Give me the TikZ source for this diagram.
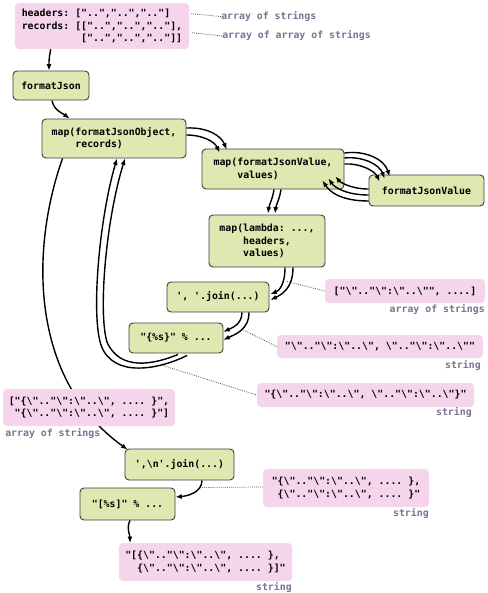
\documentclass[tikz,border=0pt]{standalone}
\usepackage{fontspec}
\setmonofont{DejaVu Sans Mono}
\usetikzlibrary{arrows.meta,calc}
\definecolor{gfill}{HTML}{DFE8B0}
\definecolor{gline}{HTML}{404040}
\definecolor{pfill}{HTML}{F5D5EC}
\definecolor{labc}{HTML}{7A7290}
\newcommand\qq{\textbackslash"}
\newcommand\bsl{\textbackslash}
\newcommand\codefont{\fontsize{7.4pt}{9.2pt}\selectfont\ttfamily\bfseries}
\tikzset{
  sz/.style 2 args={minimum width=#1*0.75pt, minimum height=#2*0.75pt},
  gbox/.style={draw=gline, fill=gfill, rounded corners=3pt, line width=0.7pt, font=\codefont, align=left, inner sep=0pt},
  pbox/.style={fill=pfill, rounded corners=3pt, font=\codefont, align=left, inner sep=0pt},
  lab/.style={text=labc, font=\codefont, inner sep=0pt},
  arr/.style={-{Latex[length=4.8pt,width=3.8pt]}, line width=1.05pt},
  dotline/.style={line width=0.55pt, black!75, dash pattern=on 0.55pt off 0.9pt},
}
\begin{document}
\begin{tikzpicture}[x=0.75pt,y=-0.75pt]
\fill[white] (0,0) rectangle (488,593);
\useasboundingbox (0,0) rectangle (488,593);

% pink input box
\node[pbox,sz={174}{46}] (top) at (102,26) {headers: ["..","..",".."]\\records: [["..","..",".."],\\\phantom{records: [}["..","..",".."]]};
\node[lab,anchor=west] (la1) at (221,16.5) {array of strings};
\node[lab,anchor=west] (la2) at (222,36) {array of array of strings};

% green boxes
\node[gbox,sz={76}{29}] (fj) at (51,85.5) {formatJson};
\node[gbox,sz={144}{39}] (mo) at (114,138.5) {map(formatJsonObject,\\\phantom{0000}records)};
\node[gbox,sz={142}{40}] (mv) at (273,169) {map(formatJsonValue,\\\phantom{0000}values)};
\node[gbox,sz={115}{31}] (fjv) at (426.5,190.5) {formatJsonValue};
\node[gbox,sz={116}{52}] (lam) at (267,241) {map(lambda: ...,\\\phantom{0000}headers,\\\phantom{0000}values)};
\node[gbox,sz={102}{30}] (j1) at (218,297) {', '.join(...)};
\node[gbox,sz={94}{30}] (f1) at (176,338) {"\{\%s\}" \% ...};
\node[gbox,sz={109}{31}] (j2) at (179.5,464.5) {',\bsl n'.join(...)};
\node[gbox,sz={95}{32}] (f2) at (127.5,504) {"[\%s]" \% ...};

% connectors
\draw[arr] ($(top.south west)+(36,0)$) .. controls +(-2,10) and +(0,-8) .. ($(fj.north)+(-2,0)$);
\draw[arr] ($(fj.south)+(1,0)$) .. controls +(2,10) and +(-8,-6) .. ($(mo.north west)+(28,0)$);
\draw[arr] ($(mo.east)+(0,-10.5)$) .. controls +(22,-1) and +(-5,-13) .. ($(mv.north west)+(25,1)$);
\draw[arr] ($(mo.east)+(0,-3.5)$) .. controls +(16,0) and +(-5,-11) .. ($(mv.north west)+(18,4)$);
% mv -> fjv (three)
\draw[arr] ($(mv.east)+(0,-16)$) .. controls +(21,-3) and +(-5,-17) .. ($(fjv.north west)+(21,2)$);
\draw[arr] ($(mv.east)+(0,-11)$) .. controls +(18,-2) and +(-5,-14) .. ($(fjv.north west)+(16,4)$);
\draw[arr] ($(mv.east)+(0,-5)$) .. controls +(15,-1) and +(-5,-11) .. ($(fjv.north west)+(11,7)$);
% fjv -> mv (three)
\draw[arr] ($(fjv.west)+(0,-1.5)$) .. controls +(-17,0) and +(5,6) .. ($(mv.south east)+(-9,-13)$);
\draw[arr] ($(fjv.west)+(0,4.5)$) .. controls +(-22,0) and +(6,9) .. ($(mv.south east)+(-16,-11)$);
\draw[arr] ($(fjv.west)+(0,10.5)$) .. controls +(-28,0) and +(7,11) .. ($(mv.south east)+(-22,-9)$);
% mv -> lam
\draw[arr] ($(mv.south)+(1,0)$) .. controls +(-1,8) and +(1,-8) .. ($(lam.north)+(1,-1)$);
\draw[arr] ($(mv.south)+(8,0)$) .. controls +(-1,8) and +(1,-8) .. ($(lam.north)+(8,-1)$);
% lam -> j1
\draw[arr] ($(lam.south)+(18,0)$) .. controls +(0,18) and +(8,-3) .. ($(j1.east)+(1,-3)$);
\draw[arr] ($(lam.south)+(26,0)$) .. controls +(0,22) and +(10,-5) .. ($(j1.east)+(1,3)$);
% j1 -> f1
\draw[arr] ($(j1.south)+(24,0)$) .. controls +(0,12) and +(8,-4) .. ($(f1.east)+(0,-6)$);
\draw[arr] ($(j1.south)+(31,0)$) .. controls +(0,18) and +(10,-5) .. ($(f1.east)+(0,2)$);
% f1 -> mo (loop)
\draw[arr] ($(f1.south)+(11,2)$) .. controls (160,369) and (113,379) .. (101,345) .. controls (91,315) and (99,220) .. ($(mo.south)+(3,0)$);
\draw[arr] ($(f1.south)+(2,1)$) .. controls (155,364) and (120,372) .. (107,342) .. controls (98,312) and (106,220) .. ($(mo.south)+(11,0)$);
% mo -> j2 (long)
\draw[arr] ($(mo.south west)+(21,0)$) .. controls (30,250) and (30,380) .. ($(j2.north west)+(3,1)$);
% j2 -> f2 -> result
\draw[arr] ($(j2.south)+(22.5,0)$) .. controls +(0,12) and +(12,-1) .. ($(f2.east)+(0,-7)$);
\draw[arr] ($(f2.south)+(2.5,0)$) .. controls +(-4,8) and +(0,-8) .. (130,543);

% pink value boxes
\node[pbox,sz={160}{24}] (p9) at (405,291) {["\qq.."\qq:\qq..\qq", ....]};
\node[lab,anchor=east] (l9) at (485,309.5) {array of strings};
\node[pbox,sz={206}{23}] (p10) at (380,346.5) {"\qq.."\qq:\qq..\qq, \qq.."\qq:\qq..\qq"};
\node[lab,anchor=east] (l10) at (481,365.5) {string};
\node[pbox,sz={217}{24}] (p11) at (365.5,395) {"\{\qq.."\qq:\qq..\qq, \qq.."\qq:\qq..\qq\}"};
\node[lab,anchor=east] (l11) at (472,412.5) {string};
\node[pbox,sz={172}{37}] (p12) at (89,407.5) {["\{\qq.."\qq:\qq..\qq, .... \}",\\\phantom{0}"\{\qq.."\qq:\qq..\qq, .... \}"]};
\node[lab,anchor=west] (l12) at (5,433.5) {array of strings};
\node[pbox,sz={166}{38}] (p16) at (346,488) {"\{\qq.."\qq:\qq..\qq, .... \},\\\phantom{0}\{\qq.."\qq:\qq..\qq, .... \}"};
\node[lab,anchor=east] (l16) at (429,513.5) {string};
\node[pbox,sz={173}{38}] (p15) at (205.5,562) {"[\{\qq.."\qq:\qq..\qq, .... \},\\\phantom{00}\{\qq.."\qq:\qq..\qq, .... \}]"};
\node[lab,anchor=east] (l15) at (292,587.5) {string};

% dotted annotation leaders
\draw[dotline] ($(top.north east)+(2,11)$) -- (la1.west);
\draw[dotline] ($(top.north east)+(3,30)$) -- (la2.west);
\draw[dotline] ($(lam.south)+(20,14)$) -- (p9.west);
\draw[dotline] ($(f1.east)+(20,-8)$) -- (p10.west);
\draw[dotline] ($(f1.south)+(-13,12)$) -- (p11.west);
\draw[dotline] ($(j2.south)+(22.5,7)$) -- ($(p16.west)+(0,-1)$);
\end{tikzpicture}
\end{document}
